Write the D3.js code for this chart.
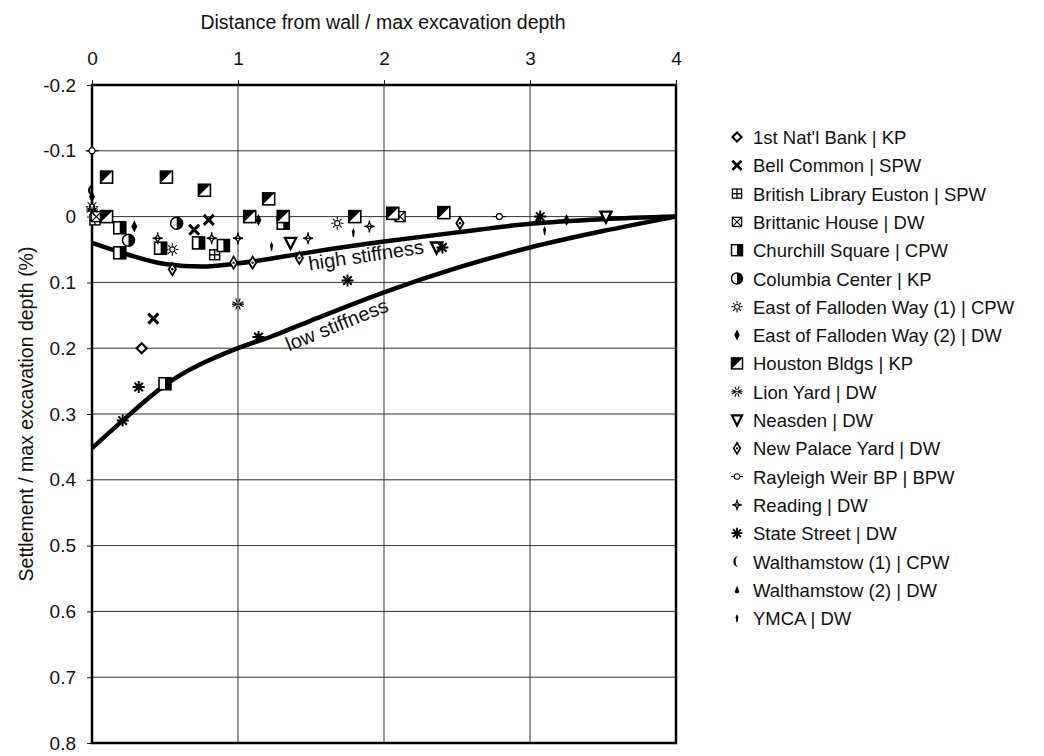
<!DOCTYPE html>
<html>
<head>
<meta charset="utf-8">
<script src="https://cdn.jsdelivr.net/npm/d3@7"></script>
<style>
  body { margin: 0; background: #fff; }
  text { font-family: "Liberation Sans", Arial, sans-serif; fill: #111; }
</style>
</head>
<body>
<div id="chart"></div>
<script>
// AXIS TICKS
const xTicks = [0, 1, 2, 3, 4];
const yTicks = [-0.2, -0.1, 0, 0.1, 0.2, 0.3, 0.4, 0.5, 0.6, 0.7, 0.8];

// DATA: [distance / H, settlement / H (%)]
const firstNatlBank = [[0.34, 0.2]];
const bellCommon = [[0.80, 0.005], [0.70, 0.02], [0.42, 0.155]];
const britishLibrary = [[0.02, 0.005], [0.84, 0.058]];
const brittanicHouse = [[0.03, 0.0], [2.11, 0.0]];
const churchillSquare = [[0.19, 0.017], [0.47, 0.048], [0.73, 0.04], [0.90, 0.044], [0.19, 0.055], [0.50, 0.254], [1.31, 0.01]];
const columbiaCenter = [[0.58, 0.01], [0.25, 0.036]];
const falloden1 = [[0.55, 0.05], [1.68, 0.01], [0.0, -0.015]];
const falloden2 = [[0.29, 0.015], [1.14, 0.005], [3.25, 0.005], [0.0, -0.03]];
const houstonBldgs = [[0.10, -0.06], [0.51, -0.06], [0.77, -0.04], [1.21, -0.027], [1.08, 0.0], [1.31, 0.0], [1.80, 0.0], [2.06, -0.005], [2.41, -0.006], [0.10, 0.0]];
const lionYard = [[1.0, 0.133], [0.0, -0.01]];
const neasden = [[1.36, 0.04], [2.36, 0.047], [3.52, 0.0]];
const newPalaceYard = [[0.97, 0.07], [1.10, 0.07], [1.42, 0.063], [2.52, 0.01], [0.55, 0.08]];
const rayleighWeir = [[0.0, -0.1], [2.79, 0.0]];
const reading = [[1.0, 0.033], [1.48, 0.033], [1.90, 0.015], [0.45, 0.033], [0.82, 0.033]];
const stateStreet = [[1.14, 0.183], [1.75, 0.097], [2.40, 0.047], [0.32, 0.259], [0.21, 0.31], [3.07, 0.0]];
const walthamstow1 = [[0.0, -0.04]];
const walthamstow2 = [[3.05, 0.005]];
const ymca = [[1.23, 0.045], [1.79, 0.024], [3.10, 0.021]];

// ENVELOPE CURVES
const highX = [0, 0.25, 0.5, 0.75, 1.0, 1.25, 1.5, 2.0, 2.5, 3.0, 3.5, 4.0];
const highY = [0.04, 0.058, 0.072, 0.076, 0.071, 0.063, 0.054, 0.038, 0.024, 0.011, 0.004, 0];
const lowX = [0, 0.21, 0.5, 1.0, 1.22, 1.5, 2.0, 2.5, 3.0, 3.5, 4.0];
const lowY = [0.352, 0.31, 0.256, 0.2, 0.183, 0.158, 0.115, 0.078, 0.047, 0.022, 0];

const series = [
  {name: "1st Nat'l Bank | KP", type: 'diamondOpen', pts: firstNatlBank},
  {name: 'Bell Common | SPW', type: 'cross', pts: bellCommon},
  {name: 'British Library Euston | SPW', type: 'squarePlus', pts: britishLibrary},
  {name: 'Brittanic House | DW', type: 'squareX', pts: brittanicHouse},
  {name: 'Churchill Square | CPW', type: 'squareHalf', pts: churchillSquare},
  {name: 'Columbia Center | KP', type: 'circleHalf', pts: columbiaCenter},
  {name: 'East of Falloden Way (1) | CPW', type: 'sun', pts: falloden1},
  {name: 'East of Falloden Way (2) | DW', type: 'diamondFilled', pts: falloden2},
  {name: 'Houston Bldgs | KP', type: 'squareTri', pts: houstonBldgs},
  {name: 'Lion Yard | DW', type: 'lion', pts: lionYard},
  {name: 'Neasden | DW', type: 'triDown', pts: neasden},
  {name: 'New Palace Yard | DW', type: 'diamondDot', pts: newPalaceYard},
  {name: 'Rayleigh Weir BP | BPW', type: 'circleLine', pts: rayleighWeir},
  {name: 'Reading | DW', type: 'starLine', pts: reading},
  {name: 'State Street | DW', type: 'asterisk', pts: stateStreet},
  {name: 'Walthamstow (1) | CPW', type: 'crescent', pts: walthamstow1},
  {name: 'Walthamstow (2) | DW', type: 'drop', pts: walthamstow2},
  {name: 'YMCA | DW', type: 'dagger', pts: ymca}
];

// DIMENSIONS
const width = 1044, height = 756;
const pLeft = 92, pRight = 676, pTop = 85, pBottom = 743;

const svg = d3.select('#chart').append('svg')
  .attr('width', width).attr('height', height);

const x = d3.scaleLinear().domain([0, 4]).range([pLeft, pRight]);
const y = d3.scaleLinear().domain([-0.2, 0.8]).range([pTop, pBottom]);

// GRID
svg.append('g').selectAll('line').data(yTicks.slice(1, -1)).join('line')
  .attr('x1', pLeft).attr('x2', pRight)
  .attr('y1', d => y(d)).attr('y2', d => y(d))
  .attr('stroke', '#333').attr('stroke-width', 1);
svg.append('g').selectAll('line').data(xTicks.slice(1, -1)).join('line')
  .attr('x1', d => x(d)).attr('x2', d => x(d))
  .attr('y1', pTop).attr('y2', pBottom)
  .attr('stroke', '#333').attr('stroke-width', 1);

// AXES
const xAxis = svg.append('g').attr('transform', `translate(0,${pTop})`)
  .call(d3.axisTop(x).tickValues(xTicks).tickFormat(d3.format('d')).tickSize(5).tickPadding(15));
const yAxis = svg.append('g').attr('transform', `translate(${pLeft},0)`)
  .call(d3.axisLeft(y).tickValues(yTicks).tickFormat(d => d === 0 ? '0' : d.toFixed(1)).tickSize(5).tickPadding(11));
[xAxis, yAxis].forEach(a => {
  a.attr('font-size', 19);
  a.select('.domain').remove();
  a.selectAll('line').attr('stroke', '#222');
  a.selectAll('text').attr('fill', '#111')
    .style('font-family', '"Liberation Sans", Arial, sans-serif');
});

// FRAME
svg.append('rect')
  .attr('x', pLeft).attr('y', pTop).attr('width', pRight - pLeft).attr('height', pBottom - pTop)
  .attr('fill', 'none').attr('stroke', '#000').attr('stroke-width', 2.5);

// AXIS TITLES
svg.append('text').text('Distance from wall / max excavation depth')
  .attr('x', 383).attr('y', 29).attr('text-anchor', 'middle').attr('font-size', 19.5);
svg.append('text').text('Settlement / max excavation depth (%)')
  .attr('transform', `translate(33,414)rotate(-90)`)
  .attr('text-anchor', 'middle').attr('font-size', 19.5);

// CURVES
const line = d3.line().x(d => x(d[0])).y(d => y(d[1])).curve(d3.curveMonotoneX);
svg.append('path').datum(highX.map((v, i) => [v, highY[i]]))
  .attr('d', line).attr('fill', 'none').attr('stroke', '#000').attr('stroke-width', 4.5);
svg.append('path').datum(lowX.map((v, i) => [v, lowY[i]]))
  .attr('d', line).attr('fill', 'none').attr('stroke', '#000').attr('stroke-width', 4.5);

svg.append('text').text('high stiffness')
  .attr('transform', `translate(${x(1.49)},${y(0.082)})rotate(-8.5)`)
  .attr('font-size', 20);
svg.append('text').text('low stiffness')
  .attr('transform', `translate(${x(1.35)},${y(0.205)})rotate(-22)`)
  .attr('font-size', 20);

// MARKERS
function drawMarker(g, type, s) {
  const k = s / 6;
  const sw = w => w * k;
  switch (type) {
    case 'diamondOpen':
      g.append('path').attr('d', `M0,${-5*k}L${5*k},0L0,${5*k}L${-5*k},0Z`)
        .attr('fill', '#fff').attr('stroke', '#000').attr('stroke-width', sw(2.2));
      break;
    case 'cross':
      g.append('path').attr('d', `M${-5*k},${-5*k}L${5*k},${5*k}M${5*k},${-5*k}L${-5*k},${5*k}`)
        .attr('stroke', '#000').attr('stroke-width', sw(3));
      break;
    case 'squarePlus':
      g.append('rect').attr('x', -5*k).attr('y', -5*k).attr('width', 10*k).attr('height', 10*k)
        .attr('fill', '#fff').attr('stroke', '#000').attr('stroke-width', sw(1.4));
      g.append('path').attr('d', `M0,${-5*k}V${5*k}M${-5*k},0H${5*k}`)
        .attr('stroke', '#000').attr('stroke-width', sw(1.4));
      break;
    case 'squareX':
      g.append('rect').attr('x', -5*k).attr('y', -5*k).attr('width', 10*k).attr('height', 10*k)
        .attr('fill', '#fff').attr('stroke', '#000').attr('stroke-width', sw(1.4));
      g.append('path').attr('d', `M${-5*k},${-5*k}L${5*k},${5*k}M${5*k},${-5*k}L${-5*k},${5*k}`)
        .attr('stroke', '#000').attr('stroke-width', sw(1.2));
      break;
    case 'squareHalf':
      g.append('rect').attr('x', -6*k).attr('y', -6*k).attr('width', 12*k).attr('height', 12*k)
        .attr('fill', '#fff').attr('stroke', '#000').attr('stroke-width', sw(1.6));
      g.append('rect').attr('x', 0).attr('y', -6*k).attr('width', 6*k).attr('height', 12*k).attr('fill', '#000');
      break;
    case 'circleHalf':
      g.append('circle').attr('r', 6*k).attr('fill', '#fff').attr('stroke', '#000').attr('stroke-width', sw(1.5));
      g.append('path').attr('d', `M0,${-6*k}A${6*k},${6*k} 0 0 1 0,${6*k}Z`).attr('fill', '#000');
      break;
    case 'sun':
      g.append('circle').attr('r', 2.6*k).attr('fill', '#fff').attr('stroke', '#000').attr('stroke-width', sw(1.1));
      g.append('path').attr('d', d3.range(8).map(i => {
        const a = i * Math.PI / 4;
        return `M${3.6*k*Math.cos(a)},${3.6*k*Math.sin(a)}L${6.2*k*Math.cos(a)},${6.2*k*Math.sin(a)}`;
      }).join('')).attr('stroke', '#000').attr('stroke-width', sw(1.1));
      break;
    case 'diamondFilled':
      g.append('path').attr('d', `M0,${-6*k}L${3*k},0L0,${6*k}L${-3*k},0Z`).attr('fill', '#000');
      break;
    case 'squareTri':
      g.append('rect').attr('x', -6*k).attr('y', -6*k).attr('width', 12*k).attr('height', 12*k)
        .attr('fill', '#fff').attr('stroke', '#000').attr('stroke-width', sw(1.6));
      g.append('path').attr('d', `M${-6*k},${-6*k}H${6*k}L${-6*k},${6*k}Z`).attr('fill', '#000');
      break;
    case 'lion':
      g.append('path').attr('d', d3.range(8).map(i => {
        const a = i * Math.PI / 4 + Math.PI / 8;
        return `M${1.8*k*Math.cos(a)},${1.8*k*Math.sin(a)}L${6*k*Math.cos(a)},${6*k*Math.sin(a)}`;
      }).join('') + `M${-6*k},0H${6*k}`).attr('stroke', '#000').attr('stroke-width', sw(1.1));
      break;
    case 'triDown':
      g.append('path').attr('d', `M${-5.5*k},${-5*k}H${5.5*k}L0,${6*k}Z`)
        .attr('fill', '#fff').attr('stroke', '#000').attr('stroke-width', sw(2.4)).attr('stroke-linejoin', 'miter');
      break;
    case 'diamondDot':
      g.append('path').attr('d', `M0,${-6*k}L${3.6*k},0L0,${6*k}L${-3.6*k},0Z`)
        .attr('fill', '#fff').attr('stroke', '#000').attr('stroke-width', sw(1.8));
      g.append('circle').attr('r', 1.2*k).attr('fill', '#000');
      break;
    case 'circleLine':
      g.append('path').attr('d', `M${-6.5*k},0H${6.5*k}`).attr('stroke', '#000').attr('stroke-width', sw(1.1));
      g.append('circle').attr('r', 3*k).attr('fill', '#fff').attr('stroke', '#000').attr('stroke-width', sw(1.1));
      break;
    case 'starLine':
      g.append('path').attr('d', `M0,${-6*k}Q0,0 ${5*k},0Q0,0 0,${6*k}Q0,0 ${-5*k},0Q0,0 0,${-6*k}Z`)
        .attr('fill', '#fff').attr('stroke', '#000').attr('stroke-width', sw(1.3));
      g.append('path').attr('d', `M${-5*k},0H${5*k}`).attr('stroke', '#000').attr('stroke-width', sw(1.3));
      break;
    case 'asterisk':
      g.append('path').attr('d', d3.range(8).map(i => {
        const a = i * Math.PI / 4;
        return `M0,0L${6*k*Math.cos(a)},${6*k*Math.sin(a)}`;
      }).join('')).attr('stroke', '#000').attr('stroke-width', sw(2));
      g.append('circle').attr('r', 2.4*k).attr('fill', '#000');
      break;
    case 'crescent':
      g.append('path').attr('d', `M${2*k},${-6*k}A${6*k},${6*k} 0 1 0 ${2*k},${6*k}A${3.5*k},${6*k} 0 1 1 ${2*k},${-6*k}Z`)
        .attr('fill', '#000');
      break;
    case 'drop':
      g.append('path').attr('d', `M0,${-4.5*k}L${2.4*k},${1.5*k}A${2.4*k},${2.4*k} 0 1 1 ${-2.4*k},${1.5*k}Z`).attr('fill', '#000');
      break;
    case 'dagger':
      g.append('path').attr('d', `M0,${-4.5*k}L${1.5*k},${-1*k}L${0.6*k},${4.5*k}H${-0.6*k}L${-1.5*k},${-1*k}Z`).attr('fill', '#000');
      break;
  }
}

const pointLayer = svg.append('g');
series.forEach(sr => {
  sr.pts.forEach(p => {
    const g = pointLayer.append('g').attr('transform', `translate(${x(p[0])},${y(p[1])})`);
    drawMarker(g, sr.type, 6);
  });
});

// LEGEND
const legend = svg.append('g').attr('transform', 'translate(737,137)');
series.forEach((sr, i) => {
  const row = legend.append('g').attr('transform', `translate(0,${i * 28.3})`);
  drawMarker(row, sr.type, 5.5);
  row.append('text').text(sr.name).attr('x', 16).attr('y', 7).attr('font-size', 18.5);
});
</script>
</body>
</html>
